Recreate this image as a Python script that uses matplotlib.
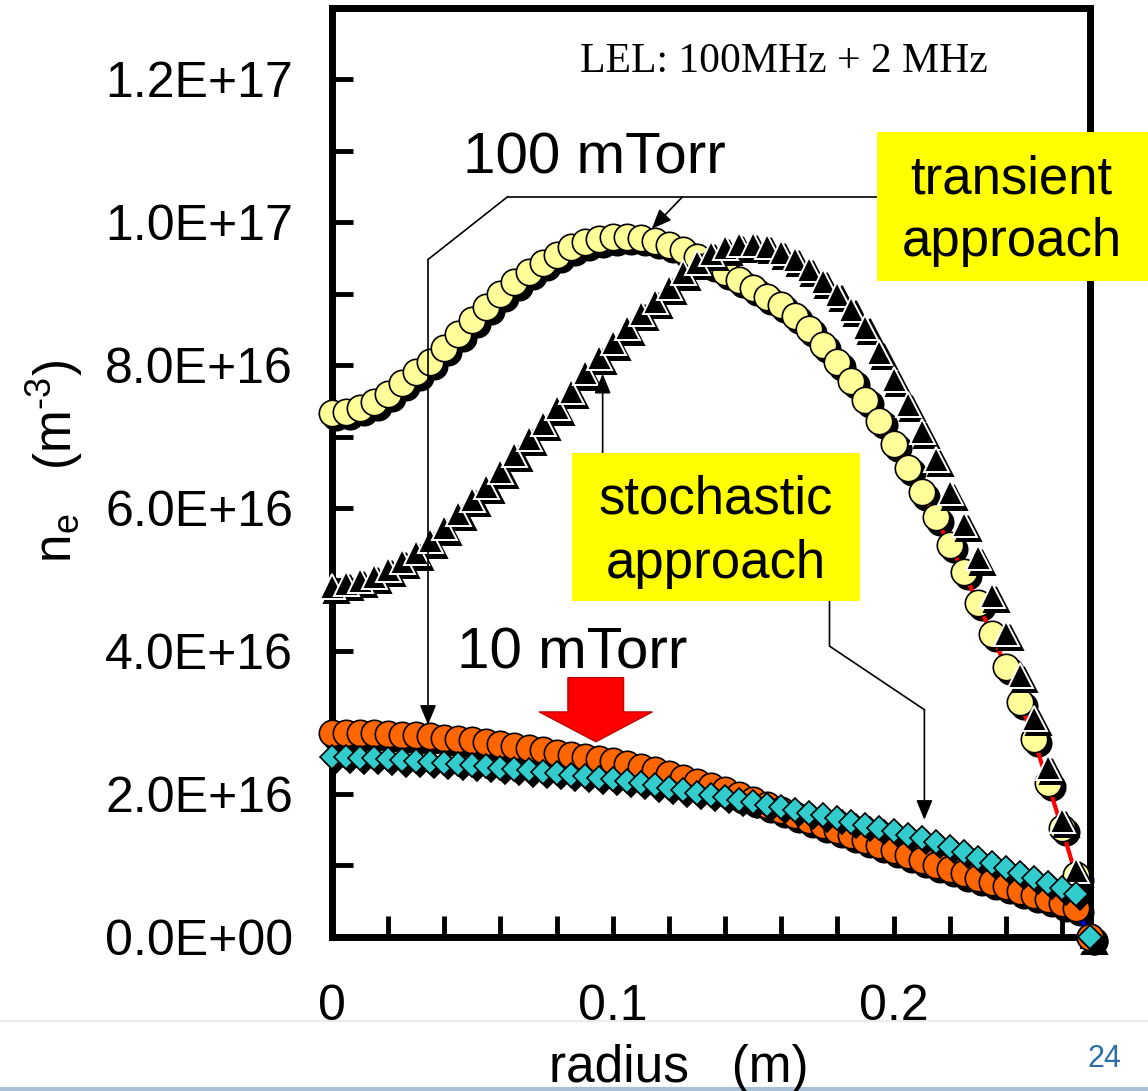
import numpy as np
import matplotlib
matplotlib.use("Agg")
import matplotlib.pyplot as plt
import matplotlib.ticker as mticker
from matplotlib.transforms import ScaledTranslation
from matplotlib.patches import Rectangle, Polygon
from matplotlib.lines import Line2D

plt.rcParams["font.family"] = ["Liberation Sans", "DejaVu Sans"]
plt.rcParams["mathtext.default"] = "regular"

E16 = 1e16

# radial positions, 5 mm steps from the axis out to the wall (m)
RADIUS = np.arange(55) * 0.005

# electron density profiles, in units of 1e16 m^-3
NE_100_TRANSIENT = [
    7.33, 7.35, 7.40, 7.48, 7.60, 7.75, 7.90, 8.05, 8.24, 8.44,
    8.63, 8.82, 9.00, 9.16, 9.31, 9.43, 9.55, 9.65, 9.72, 9.76,
    9.79, 9.80, 9.78, 9.74, 9.68, 9.61, 9.52, 9.42, 9.31, 9.20,
    9.08, 8.96, 8.85, 8.69, 8.51, 8.29, 8.04, 7.78, 7.51, 7.22,
    6.90, 6.56, 6.22, 5.87, 5.49, 5.11, 4.67, 4.24, 3.78, 3.29,
    2.77, 2.15, 1.52, 0.86, 0.00,
]
NE_100_STOCHASTIC = [
    4.91, 4.95, 5.00, 5.05, 5.15, 5.26, 5.38, 5.55, 5.73, 5.93,
    6.13, 6.31, 6.52, 6.76, 6.98, 7.19, 7.41, 7.64, 7.90, 8.12,
    8.32, 8.53, 8.73, 8.90, 9.10, 9.30, 9.45, 9.57, 9.65, 9.69,
    9.70, 9.67, 9.59, 9.49, 9.35, 9.18, 9.00, 8.79, 8.54, 8.19,
    7.81, 7.46, 7.08, 6.69, 6.22, 5.78, 5.31, 4.79, 4.26, 3.67,
    3.07, 2.38, 1.64, 0.94, 0.00,
]
NE_10_TRANSIENT = [
    2.86, 2.86, 2.85, 2.85, 2.84, 2.83, 2.82, 2.81, 2.79, 2.77,
    2.75, 2.73, 2.70, 2.67, 2.64, 2.61, 2.58, 2.55, 2.52, 2.49,
    2.46, 2.42, 2.38, 2.33, 2.28, 2.23, 2.17, 2.11, 2.05, 1.98,
    1.92, 1.85, 1.78, 1.71, 1.64, 1.57, 1.50, 1.43, 1.36, 1.29,
    1.22, 1.15, 1.08, 1.01, 0.95, 0.89, 0.83, 0.77, 0.71, 0.65,
    0.59, 0.53, 0.47, 0.41, 0.00,
]
NE_10_STOCHASTIC = [
    2.52, 2.52, 2.51, 2.50, 2.49, 2.47, 2.46, 2.45, 2.44, 2.42,
    2.41, 2.39, 2.37, 2.35, 2.33, 2.31, 2.29, 2.27, 2.25, 2.23,
    2.21, 2.18, 2.15, 2.12, 2.09, 2.05, 2.02, 1.99, 1.96, 1.92,
    1.89, 1.85, 1.82, 1.78, 1.74, 1.70, 1.66, 1.61, 1.57, 1.53,
    1.48, 1.43, 1.39, 1.33, 1.26, 1.19, 1.11, 1.04, 0.97, 0.90,
    0.83, 0.76, 0.68, 0.60, 0.00,
]

X_TICKS = [0, 0.1, 0.2]

fig = plt.figure(figsize=(11.48, 10.91), dpi=100)
ax = fig.add_axes([0.2892, 0.1412, 0.6603, 0.8515])

SHADOW = 3 / 72  # drop shadow offset, inches


def series(y, marker, size, face, edge, mew, line=None, z=3):
    y = np.asarray(y) * E16
    shadow = ax.transData + ScaledTranslation(SHADOW, -SHADOW, fig.dpi_scale_trans)
    ax.plot(RADIUS, y, ls="none", marker=marker, ms=size, mfc="black",
            mec="black", mew=mew, transform=shadow, clip_on=False, zorder=z)
    ax.plot(RADIUS, y, color=line or "none", lw=3, marker=marker, ms=size,
            mfc=face, mec=edge, mew=mew, clip_on=False, zorder=z + 0.1)


series(NE_100_TRANSIENT, "o", 19, "#FFFF99", "black", 1.2, line="#FF0000", z=3)
series(NE_100_STOCHASTIC, "^", 18, "black", "white", 1.4, z=3.2)
series(NE_10_TRANSIENT, "o", 19, "#FF6600", "black", 1.2, line="#0000FF", z=3.4)
series(NE_10_STOCHASTIC, "D", 12.5, "#33CCCC", "black", 1.2, z=3.6)

ax.set_xlim(0, 0.27)
ax.set_ylim(0, 1.3e17)
ax.xaxis.set_major_locator(mticker.FixedLocator(X_TICKS))
ax.xaxis.set_minor_locator(mticker.MultipleLocator(0.02))
ax.xaxis.set_major_formatter(mticker.FuncFormatter(lambda v, p: f"{v:g}"))
ax.yaxis.set_major_locator(mticker.MultipleLocator(2e16))
ax.yaxis.set_minor_locator(mticker.MultipleLocator(1e16))
ax.yaxis.set_major_formatter(mticker.FuncFormatter(lambda v, p: f"{v:.1E}"))
ax.tick_params(which="both", direction="in", length=15, width=3.5,
               top=False, right=False, labelsize=36, color="black")
ax.tick_params(axis="x", pad=34)
ax.tick_params(axis="y", pad=28)
for sp in ax.spines.values():
    sp.set_linewidth(5)

# annotations: labels, call-out boxes and arrows
ARROW = dict(arrowstyle="-|>,head_length=0.6,head_width=0.25", color="black",
             lw=1.2, shrinkA=0, shrinkB=0, mutation_scale=20)


def callout(points, tip):
    xs = [p[0] for p in points]
    ys = [p[1] * E16 for p in points]
    ax.plot(xs, ys, color="black", lw=1.2, clip_on=False, zorder=6)
    ax.annotate("", xy=(tip[0], tip[1] * E16), xytext=(xs[-1], ys[-1]),
                arrowprops=ARROW, zorder=6, annotation_clip=False)


def yellow_box(x0, x1, y0, y1):
    ax.add_patch(Rectangle((x0, y0 * E16), x1 - x0, (y1 - y0) * E16,
                           facecolor="#FFFF00", edgecolor="none",
                           clip_on=False, zorder=7))


ax.text(0.1610, 12.10 * E16, "LEL: 100MHz + 2 MHz", family="Liberation Serif",
        fontsize=30, ha="center", va="baseline", zorder=8)
ax.text(0.0466, 10.68 * E16, "100 mTorr", fontsize=42, ha="left", va="baseline", zorder=8)
ax.text(0.0445, 3.76 * E16, "10 mTorr", fontsize=42, ha="left", va="baseline", zorder=8)

# transient approach
yellow_box(0.1940, 0.3000, 9.18, 11.26)
ax.text(0.2420, 10.40 * E16, "transient", fontsize=38, ha="center", va="baseline", zorder=8)
ax.text(0.2420, 9.53 * E16, "approach", fontsize=38, ha="center", va="baseline", zorder=8)
ax.plot([0.1940, 0.0626], [10.36 * E16, 10.36 * E16], color="black", lw=1.2,
        clip_on=False, zorder=6)
callout([(0.0626, 10.36), (0.0342, 9.48)], (0.0342, 2.97))
callout([(0.1249, 10.36)], (0.1139, 9.91))

# stochastic approach
yellow_box(0.0854, 0.1879, 4.70, 6.77)
ax.text(0.1367, 5.92 * E16, "stochastic", fontsize=38, ha="center", va="baseline", zorder=8)
ax.text(0.1367, 5.03 * E16, "approach", fontsize=38, ha="center", va="baseline", zorder=8)
callout([(0.0964, 6.77)], (0.0964, 7.88))
callout([(0.1772, 4.70), (0.1772, 4.07), (0.2110, 3.18)], (0.2110, 1.64))

# red block arrow marking the drop to 10 mTorr
ax.add_patch(Polygon(
    [(0.0840, 3.63 * E16), (0.1039, 3.63 * E16), (0.1039, 3.15 * E16),
     (0.1142, 3.15 * E16), (0.0940, 2.73 * E16), (0.0737, 3.15 * E16),
     (0.0840, 3.15 * E16)],
    closed=True, facecolor="#FF0000", edgecolor="#B00000", lw=0.8, zorder=6))

fig.text(55 / 1148, 1 - 462 / 1091, "n$_{e}$   (m$^{\u2010 3}$)", fontsize=37,
         rotation=90, ha="center", va="center")
fig.text(679 / 1148, 1 - 1082 / 1091, "radius   (m)", fontsize=37,
         ha="center", va="baseline")

# slide footer
fig.add_artist(Line2D([0, 1], [1 - 1021 / 1091] * 2, color="#EBEBEB", lw=1.5, zorder=0))
fig.add_artist(Line2D([0, 1], [0.002, 0.002], color="#A9BFD6", lw=3))
fig.text(1104 / 1148, 1 - 1059 / 1091, "24", fontsize=22, color="#2A6FA8",
         ha="center", va="center")

fig.savefig("out.png", dpi=100)
